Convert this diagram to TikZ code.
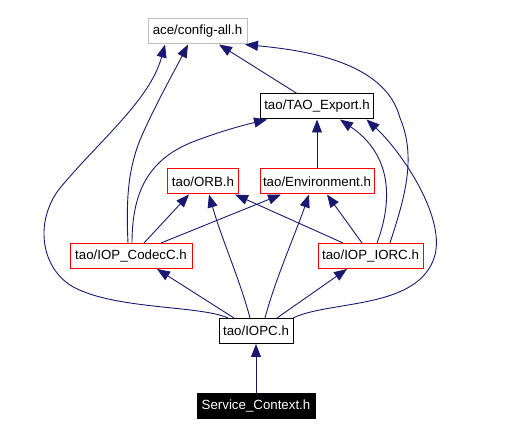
\documentclass[tikz,border=0pt]{standalone}
\usepackage{fontspec}
\setmainfont{Liberation Sans}
\usetikzlibrary{arrows.meta,calc}
\definecolor{edgeblue}{RGB}{25,25,112}
\definecolor{cfggray}{RGB}{191,191,191}
\begin{document}
\begin{tikzpicture}[x=1pt,y=-1pt,
  box/.style={draw, line width=1pt, minimum height=25pt, inner sep=0pt,
    font=\fontsize{13.3}{16}\selectfont, fill=white},
  redbox/.style={box, draw=red},
  graybox/.style={box, draw=cfggray},
  blackbox/.style={box, draw=black},
  invbox/.style={box, draw=black, fill=black, text=white},
  dep/.style={draw=edgeblue, line width=0.9pt, -{Triangle[length=13pt,width=10pt]}}
]
\path[use as bounding box] (0,0) rectangle (531,435);

\node[graybox, minimum width=99pt]  (cfg)   at (197.5,31.5) {ace/config-all.h};
\node[blackbox, minimum width=113pt] (tao)  at (317,106.5) {tao/TAO\_Export.h};
\node[redbox, minimum width=71pt]   (orb)   at (203,181.5) {tao/ORB.h};
\node[redbox, minimum width=114pt]  (env)   at (317,181.5) {tao/Environment.h};
\node[redbox, minimum width=122pt]  (codec) at (131,256) {tao/IOP\_CodecC.h};
\node[redbox, minimum width=105pt]  (iorc)  at (370.5,256) {tao/IOP\_IORC.h};
\node[blackbox, minimum width=74pt] (iopc)  at (256,331) {tao/IOPC.h};
\node[invbox, minimum width=118pt]  (sc)    at (256,406) {Service\_Context.h};

% Service_Context -> IOPC
\draw[dep] (sc) -- (iopc);
% IOPC -> ...
\draw[dep] ($(iopc.north)+(-22,0)$) -- ($(codec.south)+(26,0)$);
\draw[dep] ($(iopc.north)+(21,0)$) -- ($(iorc.south)+(-23.5,0)$);
\draw[dep] ($(iopc.north)+(-6,0)$) .. controls (240,280) and (222,240) .. ($(orb.south)+(6,0)$);
\draw[dep] ($(iopc.north)+(9,0)$) .. controls (275,280) and (295,235) .. ($(env.south)+(-8,0)$);
\draw[dep] ($(iopc.north)+(-28,0)$) .. controls (200,305) and (110,310) .. (70,285)
   .. controls (40,265) and (35,220) .. (60,188)
   .. controls (100,140) and (150,100) .. ($(cfg.south)+(-32.5,0)$);
\draw[dep] ($(iopc.north)+(37,0)$) .. controls (330,300) and (420,310) .. (435,255)
   .. controls (445,215) and (400,150) .. ($(tao.south)+(49.5,0)$);
% IOP_CodecC -> ...
\draw[dep] ($(codec.north)+(-3,0)$) .. controls (126,200) and (128,170) .. (140,140)
   .. controls (155,105) and (175,70) .. ($(cfg.south)+(-9.5,0)$);
\draw[dep] ($(codec.north)+(1,0)$) .. controls (132,190) and (150,160) .. (190,143)
   .. controls (215,133) and (240,126) .. ($(tao.south)+(-50,0)$);
\draw[dep] ($(codec.north)+(13,0)$) -- ($(orb.south)+(-14,0)$);
\draw[dep] ($(codec.north)+(30,0)$) -- ($(env.south)+(-36,0)$);
% IOP_IORC -> ...
\draw[dep] ($(iorc.north)+(-27.5,0)$) -- ($(orb.south)+(32,0)$);
\draw[dep] ($(iorc.north)+(-8.5,0)$) -- ($(env.south)+(10,0)$);
\draw[dep] ($(iorc.north)+(6.5,0)$) .. controls (393,200) and (392,155) .. ($(tao.south)+(23,0)$);
\draw[dep] ($(iorc.north)+(19.5,0)$) .. controls (402,205) and (418,160) .. (400,118)
   .. controls (385,60) and (300,50) .. ($(cfg.south)+(47.5,0)$);
% Environment -> TAO_Export
\draw[dep] (env) -- (tao);
% TAO_Export -> config-all
\draw[dep] ($(tao.north)+(-20,0)$) -- ($(cfg.south)+(21.5,0)$);
\end{tikzpicture}
\end{document}
